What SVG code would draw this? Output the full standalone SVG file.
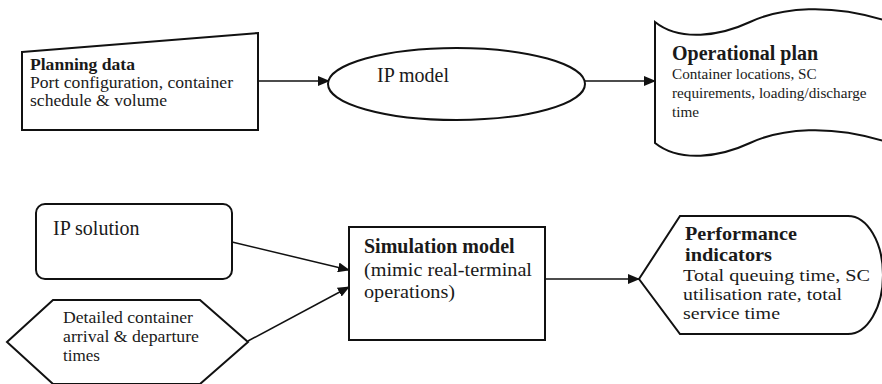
<svg xmlns="http://www.w3.org/2000/svg" width="882" height="384" viewBox="0 0 882 384">
<defs>
<marker id="arr" markerWidth="12" markerHeight="10" refX="11" refY="5" orient="auto" markerUnits="userSpaceOnUse">
<path d="M0,0 L12,5 L0,10 Z" fill="#111"/>
</marker>
<style>
.shape{fill:#fff;stroke:#111;stroke-width:2}
.conn{fill:none;stroke:#111;stroke-width:1.5;marker-end:url(#arr)}
text{font-family:"Liberation Serif","Times New Roman",serif;fill:#1a1a1a}
.b{font-weight:bold}
</style>
</defs>
<rect width="882" height="384" fill="#fff"/>
<g id="connectors">
<line class="conn" x1="258" y1="81" x2="329" y2="81"/>
<line class="conn" x1="585" y1="81" x2="655" y2="81"/>
<line class="conn" x1="232" y1="242" x2="349" y2="270"/>
<line class="conn" x1="248" y1="341" x2="349" y2="287"/>
<line class="conn" x1="545" y1="279" x2="639" y2="279"/>
</g>
<g id="planning-data">
<path class="shape" d="M22,52 L258,33 L258,130 L22,130 Z"/>
<text x="30" y="70" font-size="16" class="b" textLength="105" lengthAdjust="spacingAndGlyphs">Planning data</text>
<text x="30" y="88" font-size="16" textLength="203" lengthAdjust="spacingAndGlyphs">Port configuration, container</text>
<text x="30" y="106" font-size="16" textLength="137" lengthAdjust="spacingAndGlyphs">schedule &amp; volume</text>
</g>
<g id="ip-model">
<ellipse class="shape" cx="456.5" cy="84" rx="128.5" ry="36"/>
<text x="377" y="82" font-size="20">IP model</text>
</g>
<g id="operational-plan">
<path class="shape" d="M655,22 C680,42 720,36 750,22 C780,8 830,2 890,22 L890,143 C830,123 780,129 750,143 C720,157 680,163 655,143 Z"/>
<text x="672" y="60" font-size="20" class="b">Operational plan</text>
<text x="672" y="79" font-size="15.2">Container locations, SC</text>
<text x="672" y="98" font-size="15.2">requirements, loading/discharge</text>
<text x="672" y="117" font-size="15.2">time</text>
</g>
<g id="ip-solution">
<rect class="shape" x="36" y="204" width="196" height="75" rx="9"/>
<text x="53" y="235" font-size="20">IP solution</text>
</g>
<g id="detailed-times">
<path class="shape" d="M7,342 L53,300 L200,300 L248,342 L200,384 L53,384 Z"/>
<text x="63" y="323" font-size="17" textLength="130" lengthAdjust="spacingAndGlyphs">Detailed container</text>
<text x="63" y="342" font-size="17" textLength="136" lengthAdjust="spacingAndGlyphs">arrival &amp; departure</text>
<text x="63" y="361" font-size="17" textLength="37" lengthAdjust="spacingAndGlyphs">times</text>
</g>
<g id="simulation-model">
<rect class="shape" x="349" y="227" width="196" height="113"/>
<text x="364" y="253" font-size="20" class="b">Simulation model</text>
<text x="364" y="276" font-size="19.5" textLength="168" lengthAdjust="spacingAndGlyphs">(mimic real-terminal</text>
<text x="364" y="298" font-size="19.5" textLength="91" lengthAdjust="spacingAndGlyphs">operations)</text>
</g>
<g id="performance-indicators">
<path class="shape" d="M639,279 L680,216 L848,216 A35,59 0 0 1 848,334 L680,334 Z"/>
<text x="685" y="240" font-size="18.8" class="b" textLength="112" lengthAdjust="spacingAndGlyphs">Performance</text>
<text x="685" y="261" font-size="18.8" class="b" textLength="87" lengthAdjust="spacingAndGlyphs">indicators</text>
<text x="683" y="281" font-size="17" textLength="187" lengthAdjust="spacingAndGlyphs">Total queuing time, SC</text>
<text x="683" y="300" font-size="17" textLength="159" lengthAdjust="spacingAndGlyphs">utilisation rate, total</text>
<text x="683" y="319" font-size="17" textLength="97" lengthAdjust="spacingAndGlyphs">service time</text>
</g>
</svg>
